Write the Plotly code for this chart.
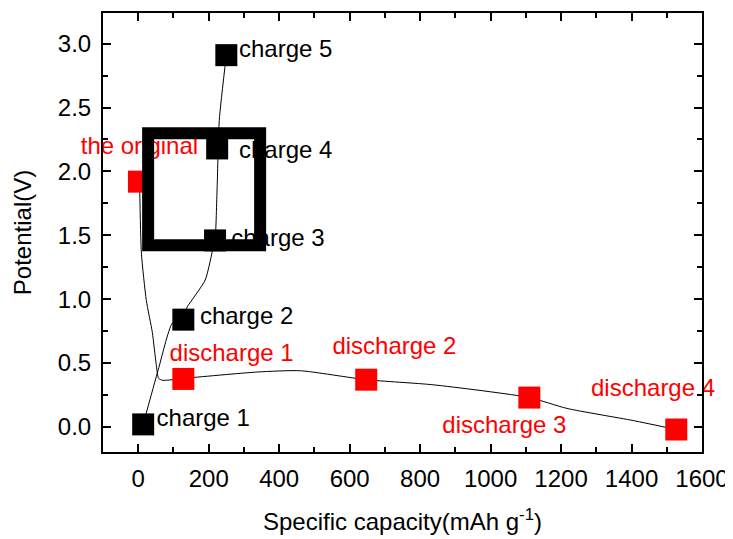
import plotly.graph_objects as go

# ---- data ----
charge_x = [14, 128, 218, 224, 250]
charge_y = [0.02, 0.84, 1.46, 2.18, 2.91]
charge_labels = ["charge 1", "charge 2", "charge 3", "charge 4", "charge 5"]
charge_label_x = [52, 175, 264, 286, 286]
charge_label_y = [0.055, 0.85, 1.46, 2.15, 2.94]

discharge_x = [2, 128, 647, 1110, 1527]
discharge_y = [1.92, 0.376, 0.37, 0.23, -0.02]
discharge_labels = ["discharge 1", "discharge 2", "discharge 3", "discharge 4"]
discharge_label_x = [89, 551, 863, 1285]
discharge_label_y = [0.56, 0.62, 0.0, 0.29]
original_label = ["the original"]
original_label_x = [170]
original_label_y = [2.18]

# continuous curves
charge_curve_x = [14, 57, 96, 128, 139, 190, 213, 218, 224, 230, 250]
charge_curve_y = [0.02, 0.45, 0.81, 0.88, 0.94, 1.15, 1.41, 1.46, 1.88, 2.40, 2.91]
discharge_curve_x = [4, 9, 23, 40, 51, 58, 70, 128, 338, 460, 647, 837, 1110, 1217, 1405, 1527]
discharge_curve_y = [1.90, 1.36, 0.99, 0.74, 0.49, 0.38, 0.365, 0.38, 0.43, 0.44, 0.37, 0.33, 0.23, 0.145, 0.05, -0.02]

# big open square highlight
box_x = [187]
box_y = [1.86]

FONT = "Arial, Liberation Sans, sans-serif"
FS = 24

fig = go.Figure()
fig.add_trace(go.Scatter(x=discharge_curve_x, y=discharge_curve_y, mode="lines",
                         line=dict(color="black", width=1, shape="spline", smoothing=0.6),
                         hoverinfo="skip", showlegend=False))
fig.add_trace(go.Scatter(x=charge_curve_x, y=charge_curve_y, mode="lines",
                         line=dict(color="black", width=1, shape="spline", smoothing=0.6),
                         hoverinfo="skip", showlegend=False))
fig.add_trace(go.Scatter(x=discharge_x, y=discharge_y, mode="markers",
                         marker=dict(symbol="square", size=22, color="#ff0000", line=dict(width=0)),
                         showlegend=False))
fig.add_trace(go.Scatter(x=charge_x, y=charge_y, mode="markers",
                         marker=dict(symbol="square", size=22, color="black", line=dict(width=0)),
                         showlegend=False))
fig.add_trace(go.Scatter(x=charge_label_x, y=charge_label_y, mode="text", text=charge_labels,
                         textposition="middle right", cliponaxis=False,
                         textfont=dict(family=FONT, size=FS, color="black"), showlegend=False))
fig.add_trace(go.Scatter(x=discharge_label_x, y=discharge_label_y, mode="text", text=discharge_labels,
                         textposition="middle right", cliponaxis=False,
                         textfont=dict(family=FONT, size=FS, color="#ff0000"), showlegend=False))
fig.add_trace(go.Scatter(x=original_label_x, y=original_label_y, mode="text", text=original_label,
                         textposition="middle left", cliponaxis=False,
                         textfont=dict(family=FONT, size=FS, color="#ff0000"), showlegend=False))
fig.add_trace(go.Scatter(x=box_x, y=box_y, mode="markers",
                         marker=dict(symbol="square-open", size=112, color="black",
                                     line=dict(width=12, color="black")),
                         hoverinfo="skip", showlegend=False))

axis_common = dict(
    showline=True, linecolor="black", linewidth=2, mirror="allticks",
    ticks="inside", ticklen=8, tickwidth=2, tickcolor="black",
    showgrid=False, zeroline=False,
    tickfont=dict(family=FONT, size=FS, color="black"),
)

fig.update_xaxes(range=[-100, 1600], tickvals=[0, 200, 400, 600, 800, 1000, 1200, 1400, 1600],
                 minor=dict(ticks="inside", ticklen=5, tickwidth=2, tickcolor="black", dtick=100),
                 ticklabelstandoff=4,
                 title=dict(text="Specific capacity(mAh g<sup>-1</sup>)",
                            font=dict(family=FONT, size=FS, color="black"), standoff=22),
                 **axis_common)
fig.update_yaxes(range=[-0.196, 3.24], tickvals=[0, 0.5, 1.0, 1.5, 2.0, 2.5, 3.0],
                 ticktext=["0.0", "0.5", "1.0", "1.5", "2.0", "2.5", "3.0"],
                 minor=dict(ticks="inside", ticklen=5, tickwidth=2, tickcolor="black", dtick=0.25),
                 ticklabelstandoff=5,
                 title=dict(text="Potential(V)", font=dict(family=FONT, size=FS, color="black"), standoff=19),
                 **axis_common)

fig.update_layout(
    width=733, height=539,
    margin=dict(l=95, r=39, t=5, b=95, autoexpand=False),
    paper_bgcolor="white", plot_bgcolor="white",
    font=dict(family=FONT, size=FS, color="black"),
)

fig.write_html("out.html")
